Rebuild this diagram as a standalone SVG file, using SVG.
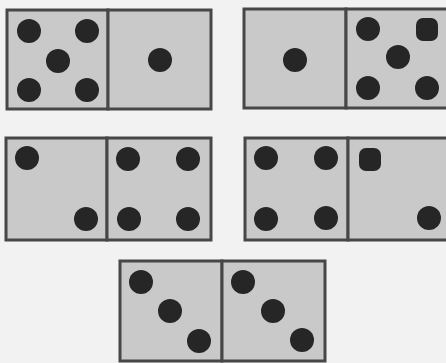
<svg xmlns="http://www.w3.org/2000/svg" width="446" height="363" viewBox="0 0 446 363">
<style>
.face{fill:#c9c9c9;stroke:#474747;stroke-width:3}
.pip{fill:#262626}
</style>
<rect width="446" height="363" fill="#f2f2f2"/>
<g id="domino1">
<rect class="face" x="7" y="10" width="101" height="99"/>
<rect class="face" x="108" y="10" width="103" height="99"/>
<circle class="pip" cx="29" cy="31" r="12"/>
<circle class="pip" cx="87" cy="31" r="12"/>
<circle class="pip" cx="58" cy="61" r="12"/>
<circle class="pip" cx="29" cy="90" r="12"/>
<circle class="pip" cx="87" cy="90" r="12"/>
<circle class="pip" cx="160" cy="60" r="12"/>
</g>
<g id="domino2">
<rect class="face" x="244" y="9" width="102" height="99"/>
<rect class="face" x="346" y="9" width="102" height="99"/>
<circle class="pip" cx="295" cy="60" r="12"/>
<circle class="pip" cx="368" cy="29" r="12"/>
<rect class="pip" x="416" y="18" width="22" height="23" rx="7"/>
<circle class="pip" cx="398" cy="57" r="12"/>
<circle class="pip" cx="368" cy="88" r="12"/>
<circle class="pip" cx="427" cy="88" r="12"/>
</g>
<g id="domino3">
<rect class="face" x="6" y="138" width="101" height="102"/>
<rect class="face" x="107" y="138" width="104" height="102"/>
<circle class="pip" cx="27" cy="158" r="12"/>
<circle class="pip" cx="86" cy="219" r="12"/>
<circle class="pip" cx="128" cy="159" r="12"/>
<circle class="pip" cx="188" cy="159" r="12"/>
<circle class="pip" cx="129" cy="219" r="12"/>
<circle class="pip" cx="188" cy="219" r="12"/>
</g>
<g id="domino4">
<rect class="face" x="245" y="138" width="103" height="102"/>
<rect class="face" x="348" y="138" width="100" height="102"/>
<circle class="pip" cx="266" cy="158" r="12"/>
<circle class="pip" cx="326" cy="158" r="12"/>
<circle class="pip" cx="266" cy="219" r="12"/>
<circle class="pip" cx="326" cy="218" r="12"/>
<rect class="pip" x="359" y="148" width="22" height="23" rx="7"/>
<circle class="pip" cx="429" cy="218" r="12"/>
</g>
<g id="domino5">
<rect class="face" x="120" y="261" width="102" height="100"/>
<rect class="face" x="222" y="261" width="103" height="100"/>
<circle class="pip" cx="141" cy="282" r="12"/>
<circle class="pip" cx="170" cy="311" r="12"/>
<circle class="pip" cx="199" cy="341" r="12"/>
<circle class="pip" cx="243" cy="282" r="12"/>
<circle class="pip" cx="273" cy="311" r="12"/>
<circle class="pip" cx="302" cy="340" r="12"/>
</g>
<g id="connectors"/>
</svg>
